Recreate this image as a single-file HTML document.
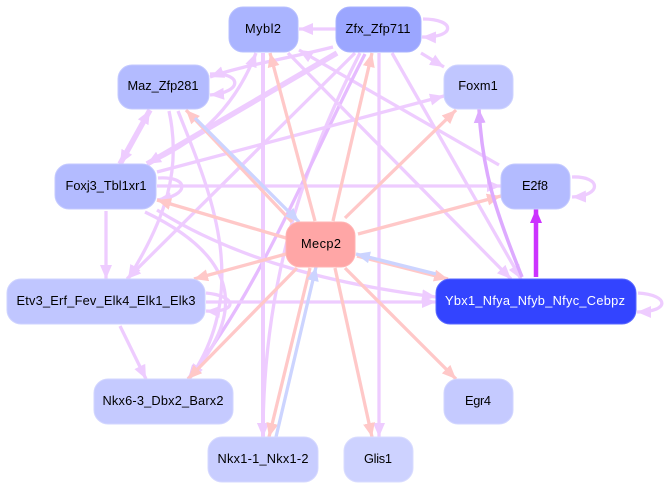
<!DOCTYPE html>
<html>
<head>
<meta charset="utf-8">
<style>
html,body{margin:0;padding:0;background:#fff}
svg{display:block}
text{font-family:"Liberation Sans",sans-serif;font-size:12.8px;text-anchor:middle;fill:#000}
.l{fill:none;stroke:#eeccff;stroke-width:3.3}
.p{fill:none;stroke:#ffc8c8;stroke-width:3.3}
.b{fill:none;stroke:#ccd4ff;stroke-width:3.3}
.l{marker-end:url(#ml)}
.p{marker-end:url(#mp)}
.b{marker-end:url(#mb)}
.n{stroke-width:1}
</style>
</head>
<body>
<svg width="667" height="489" viewBox="0 0 667 489" xmlns="http://www.w3.org/2000/svg">
<defs>
<marker id="ml" markerUnits="userSpaceOnUse" markerWidth="15" markerHeight="13" refX="14" refY="6" orient="auto"><path d="M0,0L14,6L0,12Z" fill="#eeccff"/></marker>
<marker id="mp" markerUnits="userSpaceOnUse" markerWidth="15" markerHeight="13" refX="14" refY="6" orient="auto"><path d="M0,0L14,6L0,12Z" fill="#ffc8c8"/></marker>
<marker id="mb" markerUnits="userSpaceOnUse" markerWidth="15" markerHeight="13" refX="14" refY="6" orient="auto"><path d="M0,0L14,6L0,12Z" fill="#ccd4ff"/></marker>
<marker id="md" markerUnits="userSpaceOnUse" markerWidth="15" markerHeight="13" refX="14" refY="6" orient="auto"><path d="M0,0L14,6L0,12Z" fill="#ddaaff"/></marker>
<marker id="mv" markerUnits="userSpaceOnUse" markerWidth="15" markerHeight="13" refX="14" refY="6" orient="auto"><path d="M0,0L14,6L0,12Z" fill="#cc33ff"/></marker>
<marker id="ms" markerUnits="userSpaceOnUse" markerWidth="15" markerHeight="13" refX="14" refY="6" orient="auto-start-reverse"><path d="M0,0L14,6L0,12Z" fill="#eeccff"/></marker>
<marker id="mk" markerUnits="userSpaceOnUse" markerWidth="15" markerHeight="13" refX="14" refY="6" orient="auto"><path d="M0,0L14,6L0,12Z" fill="#e6bbff"/></marker>
</defs>

<!-- lavender edges -->
<path class="l" d="M336,29L299,29"/>
<path class="l" d="M423,19C456,19 456,38 422,37" />
<path class="l" d="M421,53L444,67"/>
<path class="l" d="M333,47C290,58 240,66 210,77"/>
<path class="l" d="M210,74C242,72 244,92 210,95"/>
<path class="l" d="M499,165L299,50"/>
<path class="l" d="M147,164C190,145 232,115 256,53"/>
<path class="l" style="stroke-width:5.5" d="M337,53L147,164"/>
<path class="l" d="M355,53L127,279"/>
<path class="l" d="M360,53C300,170 263,290 263,437"/>
<path class="l" style="stroke:#e6bbff;marker-end:url(#mk)" d="M365,54C310,160 260,290 188,379"/>
<path class="l" d="M379,53L379,437"/>
<path class="l" d="M392,53L521,279"/>
<path class="l" style="stroke-width:4" d="M263,53L263,437"/>
<path class="l" d="M288,53L511,279"/>
<path class="l" d="M157,172L444,96"/>
<path class="l" d="M157,186L501,186"/>
<path class="l" d="M158,178C190,176 190,196 157,200"/>
<path class="l" style="stroke-width:5.5;marker-end:url(#ml);marker-start:url(#ms)" d="M150,110L120,164"/>
<path class="l" d="M106,211L106,279"/>
<path class="l" d="M157,210C240,262 340,285 436,297"/>
<path class="l" d="M145,212C235,255 250,310 188,379"/>
<path class="l" d="M169,111C182,170 165,220 128,279"/>
<path class="l" d="M178,111C205,180 255,285 190,378"/>
<path class="l" d="M120,326L146,379"/>
<path class="l" d="M206,293C238,296 238,313 206,311"/>
<path class="l" d="M206,302L436,302"/>
<path class="l" d="M638,293C670,295 670,312 637,312"/>
<path class="l" d="M572,177C602,176 602,196 572,197"/>

<!-- pink edges -->
<path class="p" d="M315,221L270,53"/>
<path class="p" d="M292,222L186,110"/>
<path class="p" d="M345,218L456,110"/>
<path class="p" d="M358,234L501,196"/>
<path class="p" d="M333,221L372,53"/>
<path class="p" d="M286,238L157,200"/>
<path class="p" d="M286,254L194,279"/>
<path class="p" d="M297,268L188,379"/>
<path class="p" d="M310,268L269,437"/>
<path class="p" d="M335,268L372,437"/>
<path class="p" d="M345,268L456,379"/>
<path class="p" d="M357,256L448,279"/>

<!-- blue edges -->
<path class="b" d="M195,118L299,222"/>
<path class="b" d="M276,437L316,267"/>
<path class="b" d="M436,274L356,254"/>

<!-- purple edges -->
<path style="fill:none;stroke:#ddaaff;stroke-width:3.5;marker-end:url(#md)" d="M522,277C495,210 482,170 479,109"/>
<path style="fill:none;stroke:#cc33ff;stroke-width:4.5;marker-end:url(#mv)" d="M536,277L536,209"/>

<!-- nodes -->
<rect class="n" x="229" y="7" width="69" height="45" rx="14" fill="#aab4ff" stroke="#b8c0ff"/>
<text x="263" y="33" textLength="36">Mybl2</text>
<rect class="n" x="336" y="7" width="85" height="45" rx="14" fill="#9ba6ff" stroke="#aab3ff"/>
<text x="378" y="33" textLength="65">Zfx_Zfp711</text>
<rect class="n" x="118" y="65" width="91" height="44" rx="14" fill="#b3bbff" stroke="#c4caff"/>
<text x="163" y="90" textLength="71">Maz_Zfp281</text>
<rect class="n" x="444" y="65" width="69" height="44" rx="14" fill="#c0c6ff" stroke="#ced3ff"/>
<text x="478" y="90" textLength="39.5">Foxm1</text>
<rect class="n" x="55" y="164" width="101" height="45" rx="14" fill="#b3bbff" stroke="#c4caff"/>
<text x="106" y="190" textLength="81">Foxj3_Tbl1xr1</text>
<rect class="n" x="501" y="164" width="69" height="45" rx="14" fill="#b3bbff" stroke="#c4caff"/>
<text x="535" y="190" textLength="26">E2f8</text>
<rect class="n" x="286" y="222" width="69" height="45" rx="14" fill="#ffa6a6" stroke="#ffb4b4"/>
<text x="321" y="248" textLength="40">Mecp2</text>
<rect class="n" x="7" y="279" width="198" height="45" rx="14" fill="#c0c6ff" stroke="#ced3ff"/>
<text x="106" y="305" textLength="179">Etv3_Erf_Fev_Elk4_Elk1_Elk3</text>
<rect class="n" x="436" y="279" width="200" height="45" rx="14" fill="#3344ff" stroke="#5a68ff"/>
<text x="535" y="305" textLength="180" style="fill:#fff">Ybx1_Nfya_Nfyb_Nfyc_Cebpz</text>
<rect class="n" x="94" y="379" width="139" height="45" rx="14" fill="#c5caff" stroke="#d2d6ff"/>
<text x="163" y="405" textLength="121">Nkx6-3_Dbx2_Barx2</text>
<rect class="n" x="444" y="379" width="69" height="45" rx="14" fill="#c5caff" stroke="#d2d6ff"/>
<text x="478" y="405" textLength="26">Egr4</text>
<rect class="n" x="208" y="437" width="110" height="45" rx="14" fill="#c8cdff" stroke="#d5d8ff"/>
<text x="263" y="463" textLength="91">Nkx1-1_Nkx1-2</text>
<rect class="n" x="344" y="437" width="69" height="45" rx="14" fill="#cdd2ff" stroke="#d9dcff"/>
<text x="378" y="463" textLength="28">Glis1</text>
</svg>
</body>
</html>
